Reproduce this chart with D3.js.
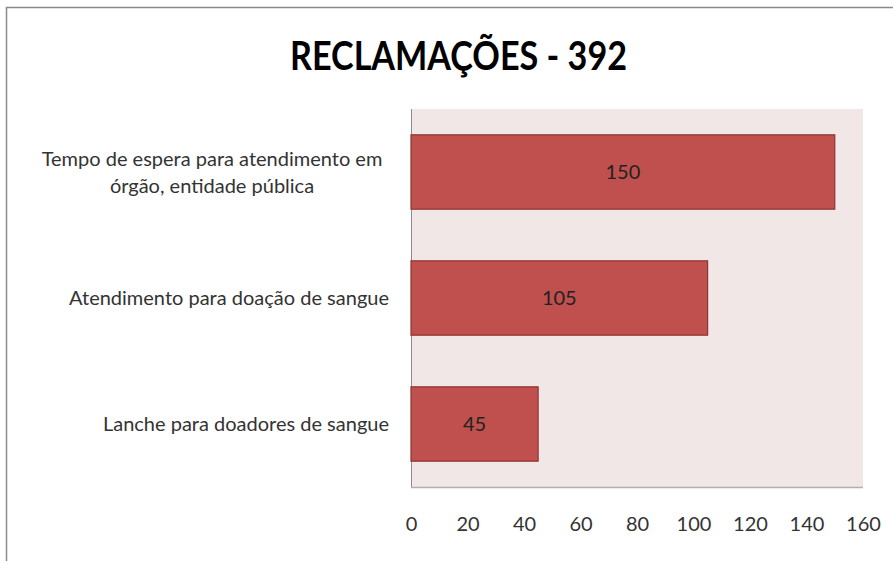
<!DOCTYPE html>
<html>
<head>
<meta charset="utf-8">
<script src="https://cdn.jsdelivr.net/npm/d3@7"></script>
<style>
  body { margin: 0; background: #fff; }
  svg { display: block; font-family: Lato, "Open Sans", sans-serif; }
</style>
</head>
<body>
<svg id="chart" width="893" height="561"></svg>
<script>
// reclamações bar chart

const categories = [
  ['Tempo de espera para atendimento em', 'órgão, entidade pública'],
  ['Atendimento para doação de sangue'],
  ['Lanche para doadores de sangue']
];
const values = [150, 105, 45];
const xTicks = [0, 20, 40, 60, 80, 100, 120, 140, 160];
const title = 'RECLAMAÇÕES - 392';

const svg = d3.select('#chart');
const W = 893, H = 561;
const plot = { left: 411, right: 863, top: 109, bottom: 487 };
const FONT = 20;

// outer chart frame
svg.append('rect')
  .attr('x', 6.5).attr('y', 7.5)
  .attr('width', W + 10).attr('height', H + 10)
  .attr('fill', '#fff')
  .attr('stroke', '#8a8a8a')
  .attr('stroke-width', 1.5);

// title, squeezed a bit to look like the condensed original face
svg.append('text')
  .attr('x', 290).attr('y', 70)
  .attr('font-size', 41)
  .attr('font-weight', 'bold')
  .attr('fill', '#000')
  .attr('textLength', 337)
  .attr('lengthAdjust', 'spacingAndGlyphs')
  .text(title);

const x = d3.scaleLinear().domain([0, 160]).range([plot.left, plot.right]);
const y = d3.scaleBand()
  .domain(d3.range(values.length))
  .range([plot.top, plot.bottom])
  .paddingInner(0.41).paddingOuter(0.205);

// plot background
svg.append('rect')
  .attr('x', plot.left).attr('y', plot.top)
  .attr('width', plot.right - plot.left)
  .attr('height', plot.bottom - plot.top)
  .attr('fill', '#f2e7e7');

// axis lines
svg.append('line')
  .attr('x1', plot.left + 0.5).attr('x2', plot.left + 0.5)
  .attr('y1', plot.top).attr('y2', plot.bottom)
  .attr('stroke', '#8c8c8c');
svg.append('line')
  .attr('x1', plot.left).attr('x2', plot.right)
  .attr('y1', plot.bottom + 0.5).attr('y2', plot.bottom + 0.5)
  .attr('stroke', '#b0b0b0').attr('stroke-width', 1.5);

// bars
svg.append('g').selectAll('rect')
  .data(values)
  .join('rect')
  .attr('x', x(0))
  .attr('y', (d, i) => y(i))
  .attr('width', d => x(d) - x(0))
  .attr('height', y.bandwidth())
  .attr('fill', '#c0504d')
  .attr('stroke', '#8e3532')
  .attr('stroke-width', 1.2);

// value labels
svg.append('g').selectAll('text')
  .data(values)
  .join('text')
  .attr('x', d => (x(0) + x(d)) / 2)
  .attr('y', (d, i) => y(i) + y.bandwidth() / 2)
  .attr('dy', '0.36em')
  .attr('text-anchor', 'middle')
  .attr('font-size', FONT)
  .attr('fill', '#222')
  .text(d => d);

// x axis tick labels
const xAxis = d3.axisBottom(x).tickValues(xTicks).tickSize(0).tickPadding(30);
const gx = svg.append('g')
  .attr('transform', `translate(0,${plot.bottom})`)
  .call(xAxis);
gx.select('.domain').remove();
gx.selectAll('text')
  .attr('font-family', 'Lato, "Open Sans", sans-serif')
  .attr('font-size', FONT)
  .attr('fill', '#333');

// category labels, wrapped lines centred on the block
const catG = svg.append('g').selectAll('text')
  .data(categories)
  .join('text')
  .attr('font-size', FONT)
  .attr('fill', '#333')
  .attr('text-anchor', 'middle')
  .attr('transform', (d, i) => `translate(212,${y(i) + y.bandwidth() / 2})`);

catG.each(function(lines) {
  const t = d3.select(this);
  const lh = 27;
  const off = -(lines.length - 1) * lh / 2;
  lines.forEach((s, k) => {
    t.append('tspan')
      .attr('x', 0)
      .attr('y', off + k * lh)
      .attr('dy', '0.36em')
      .text(s);
  });
});

// single-line labels are right aligned against the axis
catG.filter(d => d.length === 1)
  .attr('text-anchor', 'end')
  .attr('transform', d => {
    const idx = categories.indexOf(d);
    return `translate(389,${y(idx) + y.bandwidth() / 2})`;
  });
</script>
</body>
</html>
